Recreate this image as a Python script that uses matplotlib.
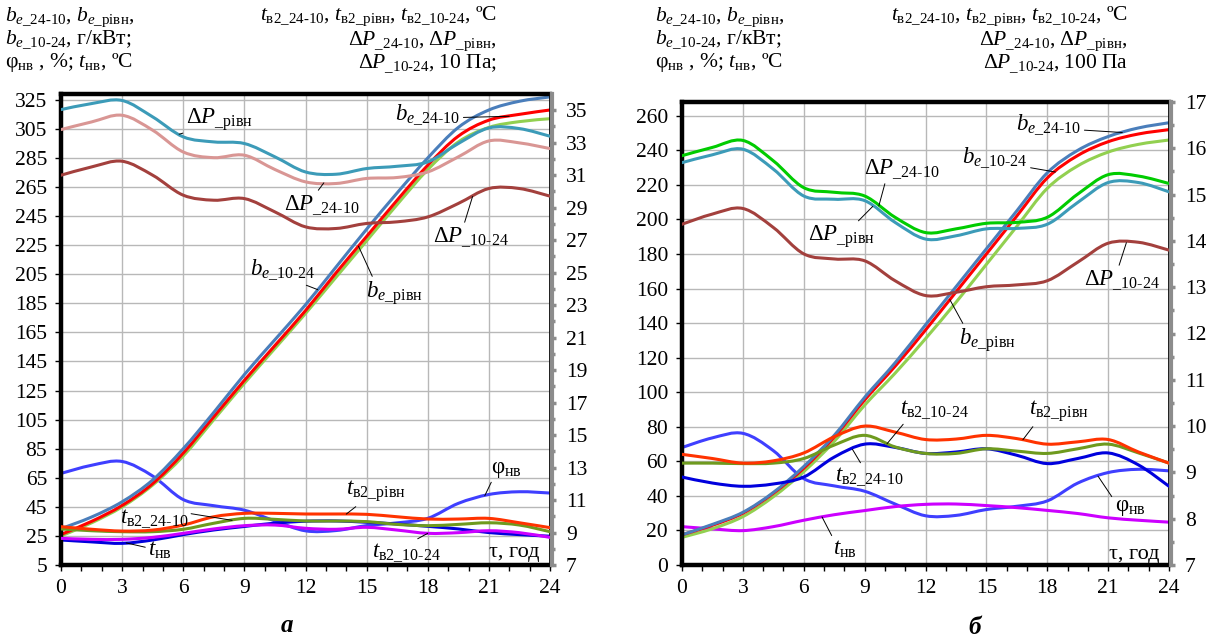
import numpy as np
import matplotlib
matplotlib.use("Agg")
import matplotlib.pyplot as plt
from matplotlib.path import Path
from matplotlib.patches import PathPatch

W, H = 1213, 637

plt.rcParams['font.family'] = ['Liberation Serif', 'DejaVu Serif']
plt.rcParams['mathtext.fontset'] = 'custom'
plt.rcParams['mathtext.rm'] = 'Liberation Serif'
plt.rcParams['mathtext.it'] = 'Liberation Serif:italic'
plt.rcParams['mathtext.bf'] = 'Liberation Serif:bold'

# ---- data ----
hours = [0, 1.5, 3, 4.5, 6, 7.5, 9, 10.5, 12, 13.5, 15, 16.5, 18, 19.5, 21, 22.5, 24]

# outdoor air, same in both panels (left axis)
phi_nv = [68, 73.6, 76.2, 66.2, 50, 45.8, 42.7, 35.3, 28.5, 28.7, 32.1, 34, 37.1, 47.4, 53.5, 55.4, 54.5]
t_nv = [22.2, 20.9, 19.9, 22.2, 25.9, 29.1, 31.5, 33.8, 35.1, 35.3, 34.4, 33.2, 31.6, 29.8, 27.3, 25.9, 24.8]

# panel a, left axis (g/kWt)
be_24_10_a = [30, 38, 48.5, 63.5, 85, 110, 136, 160, 184, 210, 236, 261, 285, 306, 318, 324, 327]
be_rivn_a = [26, 35, 46, 61, 82, 107, 132, 156, 180, 206, 231, 256, 280, 300, 311, 315, 318]
be_10_24_a = [25, 34, 45, 60, 80, 105, 130, 154, 178, 203, 228, 253, 277, 296, 306, 310, 312]
# panel a, right axis (10 Pa / degC)
dP_rivn_a = [35.04, 35.41, 35.6, 34.59, 33.36, 33.05, 32.95, 32.13, 31.2, 31.06, 31.41, 31.55, 31.82, 32.95, 33.91, 33.87, 33.4]
dP_24_10_a = [33.81, 34.28, 34.69, 33.77, 32.43, 32.08, 32.23, 31.35, 30.59, 30.49, 30.8, 30.86, 31.2, 32.13, 33.11, 32.99, 32.64]
dP_10_24_a = [31.0, 31.51, 31.86, 31.0, 29.77, 29.46, 29.56, 28.74, 27.82, 27.72, 28.03, 28.13, 28.43, 29.26, 30.18, 30.18, 29.71]
tv2_rivn_a = [9.36, 9.2, 9.09, 9.15, 9.46, 9.97, 10.18, 10.18, 10.14, 10.14, 10.12, 9.97, 9.83, 9.83, 9.87, 9.6, 9.3]
tv2_24_10_a = [9.22, 9.11, 9.05, 9.05, 9.2, 9.57, 9.87, 9.81, 9.71, 9.71, 9.67, 9.5, 9.42, 9.5, 9.6, 9.46, 9.05]
tv2_10_24_a = [8.64, 8.58, 8.58, 8.70, 8.95, 9.22, 9.42, 9.46, 9.26, 9.20, 9.32, 9.15, 8.95, 8.99, 9.11, 8.99, 8.70]

# panel b, left axis
be_24_10_b = [17.5, 23.5, 30.5, 42, 57, 75, 97, 117, 139, 161, 183, 205, 227, 240, 248, 253, 256]
be_rivn_b = [17.5, 23, 30, 41.5, 56, 74, 95.5, 115, 136, 158, 180, 202, 224, 237, 245, 249.5, 252]
be_10_24_b = [16, 21, 28, 39.5, 54, 71.5, 92.5, 111, 131, 152, 174, 196, 218, 231, 239, 243.5, 246]
# panel b, right axis (100 Pa / degC)
dP_24_10_b = [15.84, 16.02, 16.17, 15.73, 15.15, 15.05, 14.97, 14.51, 14.18, 14.26, 14.38, 14.4, 14.51, 15.01, 15.43, 15.4, 15.24]
dP_rivn_b = [15.69, 15.86, 15.98, 15.55, 14.97, 14.9, 14.87, 14.4, 14.04, 14.11, 14.26, 14.27, 14.36, 14.83, 15.26, 15.26, 15.06]
dP_10_24_b = [14.36, 14.58, 14.7, 14.29, 13.72, 13.61, 13.57, 13.14, 12.82, 12.89, 13.01, 13.05, 13.14, 13.54, 13.95, 13.97, 13.8]
tv2_rivn_b = [9.39, 9.3, 9.2, 9.25, 9.42, 9.77, 10.0, 9.87, 9.71, 9.72, 9.8, 9.73, 9.61, 9.66, 9.71, 9.44, 9.2]
tv2_10_24_b = [9.2, 9.2, 9.19, 9.2, 9.3, 9.59, 9.8, 9.55, 9.41, 9.41, 9.51, 9.46, 9.41, 9.51, 9.61, 9.42, 9.2]
tv2_24_10_b = [8.9, 8.77, 8.7, 8.75, 8.9, 9.33, 9.61, 9.54, 9.41, 9.44, 9.51, 9.37, 9.19, 9.3, 9.42, 9.16, 8.7]

HY = "\u2010"
C_BLUE = "#4a7ebb"; C_RED = "#ff0000"; C_LGREEN = "#92d050"
C_TEAL = "#3c9bb8"; C_PINK = "#d99694"; C_GREEN = "#00cc00"; C_DRED = "#a3403d"
C_PHI = "#3f3fff"; C_DBLUE = "#0000dd"; C_MAG = "#cc00ff"
C_ORANGE = "#ff3300"; C_OLIVE = "#6e9a1e"

FS_TICK = 15.5
FS_ANN = 16.5
FS_HDR = 15.5


def be(s):
    return r"$b_{e\mathrm{\_" + s + "}}$"


def tv(s):
    return r"$t_{\mathrm{в2\_" + s + "}}$"


def dp(s):
    return r"$\mathrm{Δ}P_{\mathrm{\_" + s + "}}$"


def smooth(ax, x, y, color, lw=2.2):
    # excel-like smoothed line: cubic bezier through the points
    P = np.column_stack([x, y]).astype(float)
    n = len(P)
    verts = [P[0]]
    codes = [Path.MOVETO]
    for i in range(n - 1):
        p0 = P[i - 1] if i > 0 else P[i]
        p1, p2 = P[i], P[i + 1]
        p3 = P[i + 2] if i + 2 < n else P[i + 1]
        verts += [p1 + (p2 - p0) / 6, p2 - (p3 - p1) / 6, p2]
        codes += [Path.CURVE4] * 3
    ax.add_patch(PathPatch(Path(verts, codes), fill=False, edgecolor=color,
                           lw=lw, capstyle='round', joinstyle='round'))


def setup(box, ylim, yticks, ylim2, yticks2, yminor2):
    l, r, t, b = box
    ax = fig.add_axes([l / W, 1 - b / H, (r - l) / W, (b - t) / H])
    ax2 = ax.twinx()
    ax.set_xlim(0, 24)
    ax.set_ylim(*ylim)
    ax2.set_ylim(*ylim2)
    ax.set_xticks(range(0, 25, 3))
    ax.set_xticks(range(0, 25), minor=True)
    ax.set_yticks(yticks)
    ax2.set_yticks(yticks2)
    ax2.set_yticks(yminor2, minor=True)
    ax.grid(True, color="#b8b8b8", lw=1.0)
    ax.set_axisbelow(True)
    for s in ("left", "top", "bottom"):
        ax.spines[s].set_linewidth(3.2)
        ax.spines[s].set_color("black")
    ax.spines["right"].set_linewidth(2)
    ax2.spines["right"].set_color("#8c8c8c")
    ax2.spines["right"].set_linewidth(3)
    ax2.spines["right"].set_position(("outward", 1.5))
    for s in ("left", "top", "bottom"):
        ax2.spines[s].set_visible(False)
    ax.tick_params(axis="x", which="both", direction="out", length=4, width=1,
                   labelsize=FS_TICK, pad=6)
    ax.tick_params(axis="y", direction="out", length=4, width=1, labelsize=FS_TICK, pad=6)
    ax2.tick_params(axis="y", which="major", direction="out", length=3, width=2.5,
                    color="#8c8c8c", labelsize=FS_TICK, pad=7)
    ax2.tick_params(axis="y", which="minor", direction="out", length=2.5, width=2.5,
                    color="#8c8c8c")
    return ax, ax2


def ann(ax2, text, cx, cy, relpos, trans, t, series, fs=FS_ANN):
    v = np.interp(t, hours, series)
    ax2.annotate(text, xy=(t, v), xycoords=trans, xytext=(cx, H - cy),
                 textcoords="figure pixels", ha="center", va="center", fontsize=fs,
                 annotation_clip=False,
                 arrowprops=dict(arrowstyle="-", lw=0.7, color="black", relpos=relpos,
                                 shrinkA=0, shrinkB=0))


def ftext(x, y, s, ha="left", **kw):
    fig.text(x / W, 1 - y / H, s, ha=ha, va="center", **kw)


fig = plt.figure(figsize=(W / 100, H / 100), dpi=100)

# ---------------- panel a ----------------
axa, axa2 = setup((61, 550, 94, 565), (5, 329), range(5, 326, 20),
                  (7, 36), range(7, 36, 2), range(8, 36, 2))
smooth(axa, hours, phi_nv, C_PHI)
smooth(axa, hours, t_nv, C_DBLUE)
smooth(axa, hours, be_10_24_a, C_LGREEN)
smooth(axa, hours, be_rivn_a, C_RED)
smooth(axa, hours, be_24_10_a, C_BLUE)
smooth(axa2, hours, tv2_10_24_a, C_MAG)
smooth(axa2, hours, tv2_24_10_a, C_OLIVE)
smooth(axa2, hours, tv2_rivn_a, C_ORANGE)
smooth(axa2, hours, dP_10_24_a, C_DRED)
smooth(axa2, hours, dP_24_10_a, C_PINK)
smooth(axa2, hours, dP_rivn_a, C_TEAL)

ta, ta2 = axa.transData, axa2.transData
ann(axa2, dp("рівн"), 219, 120, (0.15, 0.15), ta2, 5.8, dP_rivn_a)
ann(axa2, dp("24" + HY + "10"), 322, 205, (0.4, 0.9), ta2, 12.9, dP_24_10_a)
ann(axa2, dp("10" + HY + "24"), 471, 237, (0.4, 0.95), ta2, 20.2, dP_10_24_a)
ann(axa2, be("24" + HY + "10"), 428, 115, (1.0, 0.4), ta, 22.0, be_rivn_a)
ann(axa2, be("10" + HY + "24"), 283, 270, (0.6, 0.15), ta, 12.6, be_24_10_a)
ann(axa2, be("рівн"), 394, 293, (0.15, 0.95), ta, 14.6, be_rivn_a)
ann(axa2, tv("рівн"), 376, 491, (0.25, 0.05), ta2, 14.0, tv2_rivn_a)
ann(axa2, tv("24" + HY + "10"), 154, 519, (1.0, 0.75), ta2, 8.4, tv2_24_10_a)
ann(axa2, r"$t_{\mathrm{нв}}$", 160, 550, (0.0, 0.6), ta, 3.2, t_nv)
ann(axa2, tv("10" + HY + "24"), 407, 553, (0.55, 0.95), ta2, 18.0, tv2_10_24_a)
ann(axa2, r"$\mathrm{φ}_{\mathrm{нв}}$", 506, 469, (0.1, 0.1), ta, 20.8, phi_nv)
ftext(489, 553, "τ, год", fontsize=16)

# ---------------- panel b ----------------
axb, axb2 = setup((682, 1169, 102, 565), (0, 268), range(0, 261, 20),
                  (7, 17), range(7, 18), np.arange(7.5, 17, 1.0))
smooth(axb, hours, phi_nv, C_PHI)
smooth(axb, hours, t_nv, C_MAG)
smooth(axb, hours, be_10_24_b, C_LGREEN)
smooth(axb, hours, be_rivn_b, C_RED)
smooth(axb, hours, be_24_10_b, C_BLUE)
smooth(axb2, hours, tv2_24_10_b, C_DBLUE)
smooth(axb2, hours, tv2_10_24_b, C_OLIVE)
smooth(axb2, hours, tv2_rivn_b, C_ORANGE)
smooth(axb2, hours, dP_10_24_b, C_DRED)
smooth(axb2, hours, dP_rivn_b, C_TEAL)
smooth(axb2, hours, dP_24_10_b, C_GREEN)

tb, tb2 = axb.transData, axb2.transData
ann(axb2, dp("рівн"), 841, 237, (0.72, 1.0), tb2, 9.4, dP_rivn_b)
ann(axb2, dp("24" + HY + "10"), 902, 169, (0.3, 0.2), tb2, 9.7, dP_24_10_b)
ann(axb2, be("24" + HY + "10"), 1049, 125, (1.0, 0.3), tb, 21.7, be_24_10_b)
ann(axb2, be("10" + HY + "24"), 995, 158, (0.95, 0.15), tb, 18.4, be_rivn_b)
ann(axb2, dp("10" + HY + "24"), 1122, 280, (0.45, 1.0), tb2, 21.9, dP_10_24_b)
ann(axb2, be("рівн"), 987, 340, (0.1, 1.0), tb, 13.2, be_rivn_b)
ann(axb2, tv("24" + HY + "10"), 869, 477, (0.4, 1.0), tb2, 8.4, tv2_24_10_b)
ann(axb2, r"$t_{\mathrm{нв}}$", 845, 549, (0.05, 0.9), tb, 6.9, t_nv)
ann(axb2, tv("10" + HY + "24"), 935, 410, (0.1, 0.1), tb2, 10.1, tv2_10_24_b)
ann(axb2, tv("рівн"), 1059, 411, (0.1, 0.0), tb2, 16.8, tv2_rivn_b)
ann(axb2, r"$\mathrm{φ}_{\mathrm{нв}}$", 1130, 507, (0.0, 0.8), tb, 20.5, phi_nv)
ftext(1109, 555, "τ, год", fontsize=16)

# ---------------- headers ----------------
hdr_left = [
    be("24" + HY + "10") + ", " + be("рівн") + ",",
    be("10" + HY + "24") + ", г/кВт;",
    r"$\mathrm{φ}_{\mathrm{нв}}$ , %; $t_{\mathrm{нв}}$, ºC",
]
hdr_right_1 = tv("24" + HY + "10") + ", " + tv("рівн") + ", " + tv("10" + HY + "24") + ", ºC"
hdr_right_2 = dp("24" + HY + "10") + ", " + dp("рівн") + ","
for x0, xr, unit in ((5, 497, "10 Па;"), (655, 1128, "100 Па")):
    for i, line in enumerate(hdr_left):
        ftext(x0, 17 + 23 * i, line, fontsize=FS_HDR)
    ftext(xr, 16, hdr_right_1, ha="right", fontsize=FS_HDR)
    ftext(xr, 41, hdr_right_2, ha="right", fontsize=FS_HDR)
    ftext(xr, 64, dp("10" + HY + "24") + ", " + unit, ha="right", fontsize=FS_HDR)

ftext(287, 625, "а", ha="center", fontsize=18, fontweight="bold", fontstyle="italic")
ftext(975, 627, "б", ha="center", fontsize=18, fontweight="bold", fontstyle="italic")

fig.savefig("out.png", dpi=100)
